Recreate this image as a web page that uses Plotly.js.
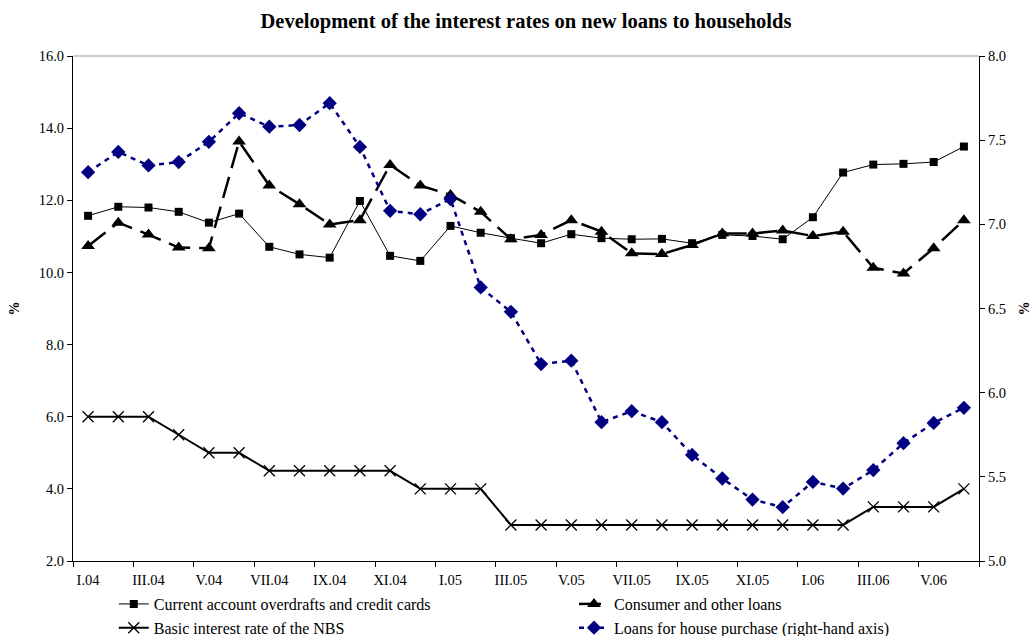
<!DOCTYPE html>
<html>
<head>
<meta charset="utf-8">
<script src="https://cdn.plot.ly/plotly-3.0.1.min.js"></script>
<style>html,body{margin:0;padding:0;background:#fff;}#chart{width:1034px;height:636px;}</style>
</head>
<body>
<div id="chart"></div>
<script>
const months = ['I.04','II.04','III.04','IV.04','V.04','VI.04','VII.04','VIII.04','IX.04','X.04','XI.04','XII.04',
                'I.05','II.05','III.05','IV.05','V.05','VI.05','VII.05','VIII.05','IX.05','X.05','XI.05','XII.05',
                'I.06','II.06','III.06','IV.06','V.06','VI.06'];
const overdrafts = [11.57,11.82,11.80,11.68,11.38,11.63,10.71,10.50,10.41,11.98,10.46,10.32,
                    11.29,11.10,10.95,10.81,11.06,10.95,10.92,10.93,10.81,11.04,11.01,10.92,
                    11.53,12.77,12.99,13.01,13.06,13.49];
const consumer = [10.73,11.38,11.05,10.69,10.67,13.63,12.41,11.89,11.33,11.45,12.98,12.41,
                  12.15,11.68,10.92,11.04,11.45,11.13,10.53,10.51,10.76,11.08,11.08,11.16,
                  11.01,11.13,10.13,9.97,10.67,11.45];
const nbsRate = [6,6,6,5.5,5,5,4.5,4.5,4.5,4.5,4.5,4,4,4,3,3,3,3,3,3,3,3,3,3,3,3,3.5,3.5,3.5,4];
const housing = [7.31,7.43,7.35,7.37,7.49,7.66,7.58,7.59,7.72,7.46,7.08,7.06,
                 7.15,6.625,6.48,6.17,6.19,5.825,5.89,5.825,5.63,5.49,5.365,5.32,
                 5.47,5.43,5.54,5.70,5.82,5.91];
const seriesNames = ['Current account overdrafts and credit cards','Consumer and other loans',
                     'Basic interest rate of the NBS','Loans for house purchase (right-hand axis)'];
const chartTitle = 'Development of the interest rates on new loans to households';

const xIdx = months.map((_, i) => i);
const tickIdx = xIdx.filter(i => i % 2 === 0);
const tickText = tickIdx.map(i => months[i]);
const FONT = 'Liberation Serif, Times New Roman, serif';

const traces = [
  {x: xIdx, y: overdrafts, name: seriesNames[0], type: 'scatter', mode: 'lines+markers', legend: 'legend',
   line: {color: '#000', width: 1}, marker: {symbol: 'square', size: 8, color: '#000'}},
  {x: xIdx, y: consumer, name: seriesNames[1], type: 'scatter', mode: 'lines+markers', legend: 'legend2',
   line: {color: '#000', width: 2.5, dash: '22px,9px'}, marker: {symbol: 'triangle-up', size: 12, color: '#000'}},
  {x: xIdx, y: nbsRate, name: seriesNames[2], type: 'scatter', mode: 'lines+markers', legend: 'legend',
   line: {color: '#000', width: 2}, marker: {symbol: 'x-thin-open', size: 11, color: '#000', line: {color: '#000', width: 1.3}}},
  {x: xIdx, y: housing, name: seriesNames[3], type: 'scatter', mode: 'lines+markers', yaxis: 'y2', legend: 'legend2',
   line: {color: '#000080', width: 2.5, dash: '5px,5px'}, marker: {symbol: 'diamond', size: 11, color: '#000080'}}
];

const legendCommon = {orientation: 'v', xanchor: 'left', y: -0.0515, yanchor: 'top',
  font: {family: FONT, size: 16, color: '#000'}, bgcolor: 'rgba(0,0,0,0)', traceorder: 'normal'};

const layout = {
  width: 1034, height: 636,
  paper_bgcolor: '#fff', plot_bgcolor: '#fff',
  margin: {l: 73, r: 55, t: 56, b: 75, autoexpand: false},
  font: {family: FONT, size: 14, color: '#000'},
  title: {text: '<b>' + chartTitle + '</b>', x: 0.5, xref: 'paper', y: 0.968, yanchor: 'middle',
          font: {family: FONT, size: 20.5, color: '#000'}},
  showlegend: true,
  legend: Object.assign({}, legendCommon, {x: 0.045}),
  legend2: Object.assign({}, legendCommon, {x: 0.553}),
  xaxis: {range: [-0.5, months.length - 0.5], tickmode: 'array', tickvals: tickIdx, ticktext: tickText,
          ticks: 'outside', ticklen: 6, tickcolor: 'rgba(0,0,0,0)', showgrid: false, zeroline: false,
          showline: true, linecolor: '#000', linewidth: 1, tickfont: {family: FONT, size: 14.5},
          minor: {tick0: -0.5, dtick: 2, ticks: 'outside', ticklen: 5, tickcolor: '#000', showgrid: false}},
  yaxis: {range: [2, 16], dtick: 2, tick0: 2, tickformat: '.1f', ticks: 'outside', ticklen: 5, tickcolor: '#000',
          showgrid: false, zeroline: false, showline: true, linecolor: '#000', linewidth: 1,
          tickfont: {family: FONT, size: 14.5},
          title: {text: '<b>%</b>', standoff: 15, font: {family: FONT, size: 14}}},
  yaxis2: {range: [5, 8], dtick: 0.5, tick0: 5, tickformat: '.1f', overlaying: 'y', side: 'right',
           ticks: 'outside', ticklen: 5, tickcolor: '#000', showgrid: false, zeroline: false,
           showline: true, linecolor: '#000', linewidth: 1, tickfont: {family: FONT, size: 14.5},
           title: {text: '<b>%</b>', standoff: 14, font: {family: FONT, size: 14}}},
  shapes: [{type: 'line', xref: 'paper', yref: 'paper', x0: 0, x1: 1, y0: 1, y1: 1,
            line: {color: '#999', width: 1}}]
};

Plotly.newPlot('chart', traces, layout, {displayModeBar: false, staticPlot: true});
</script>
</body>
</html>
